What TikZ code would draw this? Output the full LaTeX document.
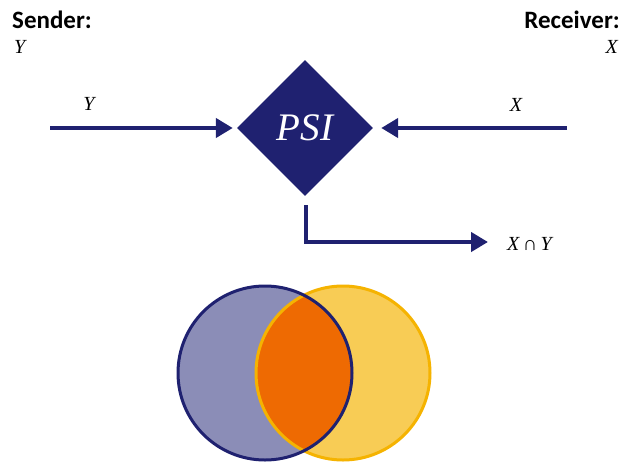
\documentclass[tikz,border=0pt]{standalone}
\usepackage{fontspec}
\newfontfamily\labelfont{Carlito}
\newfontfamily\varfont{Liberation Serif}
\usetikzlibrary{shapes.geometric,arrows.meta}
\definecolor{navy}{HTML}{1F2170}
\definecolor{lightnavy}{HTML}{8B8DB7}
\definecolor{yfill}{HTML}{F8CC55}
\definecolor{yline}{HTML}{F5B301}
\definecolor{lensorange}{HTML}{EE6A02}
\tikzset{
  flow/.style={draw=navy, line width=4.5pt, -{Triangle[length=17pt,width=19pt]}},
  head/.style={inner sep=0pt, font=\labelfont\bfseries\fontsize{25}{29}\selectfont},
  mlabel/.style={inner sep=0pt, font=\varfont\itshape\fontsize{20}{24}\selectfont},
  psibox/.style={diamond, fill=navy, text=white, inner sep=0pt, minimum width=136pt, minimum height=136pt, aspect=1, font=\varfont\itshape\fontsize{39}{43}\selectfont}
}
\begin{document}
\begin{tikzpicture}[x=1pt,y=-1pt]
\useasboundingbox (0,0) rectangle (621,461);
% headers
\node[head, anchor=base west] (snd) at (12,28) {Sender:};
\node[mlabel, anchor=base west] (sndv) at (14,53) {Y};
\node[head, anchor=base east] (rcv) at (620,28) {Receiver:};
\node[mlabel, anchor=base east] (rcvv) at (618,53) {X};
% diamond
\node[psibox] (psi) at (305,128) {PSI};
% arrows
\coordinate (ystart) at (50,128);
\coordinate (xstart) at (567,128);
\coordinate (ostart) at (306,205);
\coordinate (oend) at (488,242);
\draw[flow, shorten >=4pt] (ystart) -- (psi.west);
\draw[flow, shorten >=8pt] (xstart) -- (psi.east);
\draw[flow, line join=miter] (ostart) |- (oend);
\node[mlabel, anchor=base] (ylab) at (89,110) {Y};
\node[mlabel, anchor=base] (xlab) at (516,111) {X};
\node[mlabel, anchor=base west] (res) at (507,250) {X\,{\upshape ∩}\,Y};
% Venn
\fill[lightnavy] (265,373) circle[radius=87];
\fill[yfill] (343,373) circle[radius=87];
\begin{scope}
  \clip (265,373) circle[radius=87];
  \fill[lensorange] (343,373) circle[radius=87];
\end{scope}
\draw[yline, line width=3pt] (343,373) circle[radius=87];
\draw[navy, line width=3pt] (265,373) circle[radius=87];
\end{tikzpicture}
\end{document}
